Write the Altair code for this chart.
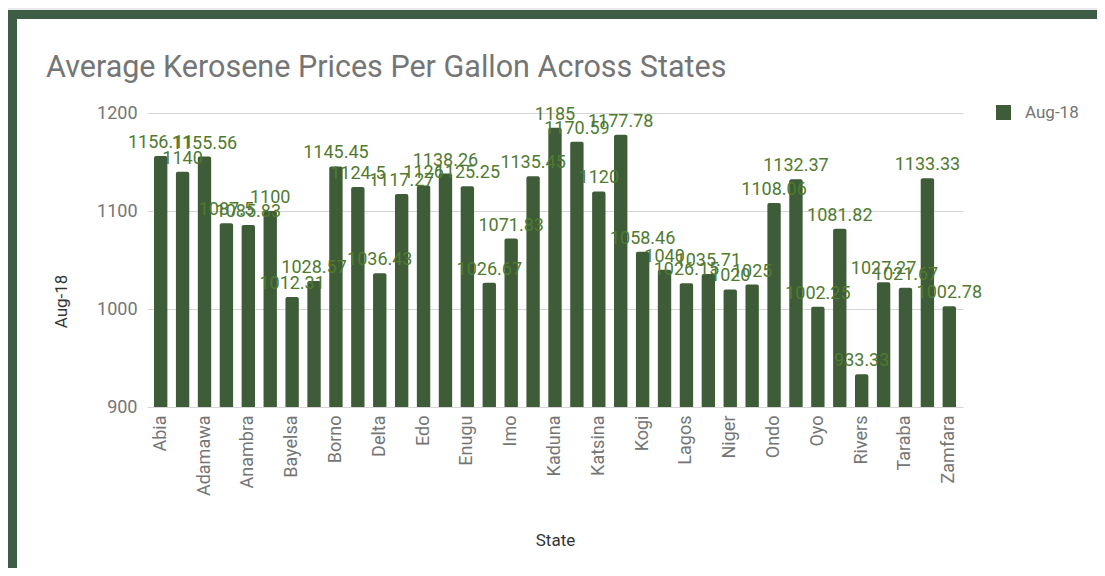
import altair as alt
import pandas as pd

states = ["Abia", "Abuja", "Adamawa", "Akwa Ibom", "Anambra", "Bauchi", "Bayelsa",
          "Benue", "Borno", "Cross River", "Delta", "Ebonyi", "Edo", "Ekiti", "Enugu",
          "Gombe", "Imo", "Jigawa", "Kaduna", "Kano", "Katsina", "Kebbi", "Kogi",
          "Kwara", "Lagos", "Nasarawa", "Niger", "Ogun", "Ondo", "Osun", "Oyo",
          "Plateau", "Rivers", "Sokoto", "Taraba", "Yobe", "Zamfara"]
aug18 = [1156.11, 1140, 1155.56, 1087.5, 1085.83, 1100, 1012.31,
         1028.57, 1145.45, 1124.5, 1036.43, 1117.27, 1126, 1138.26, 1125.25,
         1026.67, 1071.83, 1135.45, 1185, 1170.59, 1120, 1177.78, 1058.46,
         1040, 1026.15, 1035.71, 1020, 1025, 1108.06, 1132.37, 1002.25,
         1081.82, 933.33, 1027.27, 1021.67, 1133.33, 1002.78]
series_name = "Aug-18"
shown_labels = states[::2]
y_ticks = [900, 1000, 1100, 1200]

df = pd.DataFrame({
    "State": states,
    "Price": aug18,
    "Label": [f"{v:g}" for v in aug18],
    "Series": [series_name] * len(states),
})

BAR = "#3e5c37"
LABEL = "#4f7a30"
FRAME = "#3d5d45"
GRAY = "#757575"
FONT = "Roboto"

label_list = "[" + ",".join("'" + s + "'" for s in shown_labels) + "]"

x_enc = alt.X(
    "State:N", sort=states, title="State",
    scale=alt.Scale(paddingInner=0.39, paddingOuter=0.32),
    axis=alt.Axis(labelAngle=-90, labelFontSize=18, labelColor=GRAY, labelFont=FONT,
                  labelPadding=8, ticks=False, domain=False,
                  labelExpr=f"indexof({label_list}, datum.value) >= 0 ? datum.value : ''",
                  titleFontSize=17, titleColor="#333333", titleFont=FONT,
                  titleFontWeight="normal", titlePadding=37, labelOverlap=False),
)
y_scale = alt.Scale(domain=[900, 1200], zero=False, nice=False)

one = alt.Data(values=[{}])
top_gray = alt.Chart(one).mark_rect(color="#e8eaed").encode(
    x=alt.value(-139), x2=alt.value(960), y=alt.value(-105), y2=alt.value(-103)
)
top_green = alt.Chart(one).mark_rect(color=FRAME).encode(
    x=alt.value(-139), x2=alt.value(960), y=alt.value(-103), y2=alt.value(-94)
)
left_green = alt.Chart(one).mark_rect(color=FRAME).encode(
    x=alt.value(-139), x2=alt.value(-130), y=alt.value(-103), y2=alt.value(460)
)

bars = alt.Chart(df).mark_bar(cornerRadiusTopLeft=2, cornerRadiusTopRight=2).encode(
    x=x_enc,
    y=alt.Y("Price:Q", scale=y_scale, title="Aug-18",
            axis=alt.Axis(values=y_ticks, format="d", labelFontSize=18, labelColor=GRAY,
                          labelFont=FONT, labelPadding=10, ticks=False, domain=False,
                          gridColor="#d6d6d6",
                          titleFontSize=17, titleColor="#333333", titleFont=FONT,
                          titleFontWeight="normal", titlePadding=26, titleY=188)),
    y2=alt.datum(900),
    color=alt.Color("Series:N", scale=alt.Scale(range=[BAR]),
                    legend=alt.Legend(title=None, orient="none", legendX=848, legendY=-9,
                                      symbolType="square", symbolSize=225,
                                      symbolStrokeWidth=0, symbolOpacity=1,
                                      labelFontSize=17, labelColor=GRAY, labelFont=FONT,
                                      labelOffset=13, padding=0)),
)

labels = alt.Chart(df).mark_text(
    baseline="bottom", dy=-4, fontSize=18, font=FONT, color=LABEL
).encode(
    x=alt.X("State:N", sort=states),
    y=alt.Y("Price:Q", scale=y_scale),
    text="Label:N",
)

chart = alt.layer(top_gray, top_green, left_green, bars, labels).properties(
    width=816, height=294,
    autosize=alt.AutoSizeParams(type="none"),
    padding={"left": 139, "top": 105, "right": 134, "bottom": 161},
    background="white",
    title=alt.Title("Average Kerosene Prices Per Gallon Across States",
                    anchor="start", frame="group", dx=-101, offset=0, dy=75,
                    fontSize=30.5, font=FONT, color=GRAY, fontWeight="normal"),
).configure_view(stroke=None)

chart.save("out.html", embed_options={"renderer": "svg", "actions": False})
